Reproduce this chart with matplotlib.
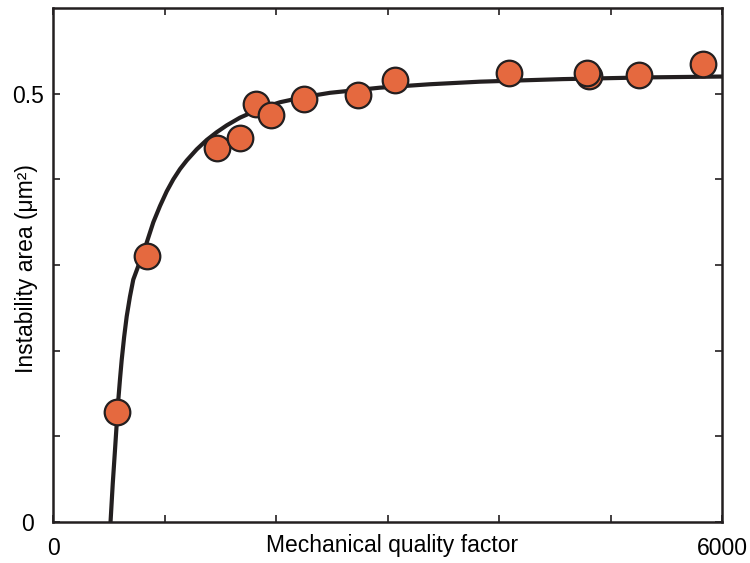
import matplotlib
matplotlib.use('Agg')
import matplotlib.pyplot as plt

plt.rcParams['font.family'] = ['Liberation Sans', 'DejaVu Sans']

# measured points
q_meas = [577, 846, 1468, 1677, 1821, 1952, 2251, 2738, 3067, 4092, 4807, 4792, 5258, 5827]
area_meas = [0.128, 0.311, 0.437, 0.448, 0.488, 0.475, 0.494, 0.498, 0.516, 0.524, 0.521, 0.524, 0.522, 0.535]

# fit curve
q_fit = [516, 536, 556, 571, 586, 601, 616, 638, 661, 690, 720, 774, 825, 900, 960, 1020,
         1079, 1139, 1199, 1289, 1379, 1468, 1558, 1677, 1850, 2036, 2250, 2484, 2933,
         3381, 3830, 4574, 5325, 6000]
area_fit = [0.0, 0.045, 0.084, 0.114, 0.143, 0.167, 0.189, 0.216, 0.240, 0.263, 0.283, 0.302,
            0.320, 0.350, 0.369, 0.386, 0.400, 0.412, 0.422, 0.435, 0.446, 0.455, 0.463, 0.472,
            0.482, 0.490, 0.496, 0.501, 0.507, 0.511, 0.514, 0.517, 0.519, 0.520]

xticks = [0, 1000, 2000, 3000, 4000, 5000, 6000]
xticklabels = ['0', '', '', '', '', '', '6000']
yticks = [0, 0.1, 0.2, 0.3, 0.4, 0.5]
yticklabels = ['0', '', '', '', '', '0.5']

fig = plt.figure(figsize=(7.5, 5.63), dpi=100)
ax = fig.add_axes([53/750, 1 - 522/563, 669/750, 514/563])

ax.plot(q_fit, area_fit, color='#231f20', lw=3.0, zorder=2, solid_joinstyle='round')
ax.scatter(q_meas, area_meas, s=340, color='#e5693f', edgecolor='#231f20', linewidth=1.6, zorder=3)

ax.set_xlim(0, 6000)
ax.set_ylim(0, 0.6)
ax.set_xticks(xticks)
ax.set_xticklabels(xticklabels)
ax.set_yticks(yticks)
ax.set_yticklabels(yticklabels)
ax.tick_params(direction='in', top=True, right=True, length=5, width=1.2,
               labelsize=16.5, color='#231f20')
ax.tick_params(axis='x', pad=11)
ax.tick_params(axis='y', pad=18)
for lab in ax.get_yticklabels():
    lab.set_horizontalalignment('center')
for s in ax.spines.values():
    s.set_linewidth(1.8)
    s.set_color('#231f20')

ax.set_xlabel('Mechanical quality factor', fontsize=16.5)
ax.xaxis.set_label_coords((392 - 53) / 669, (522 - 545.5) / 514)
ax.xaxis.label.set_va('center')
ax.set_ylabel('Instability area (μm²)', fontsize=16.5)
ax.yaxis.set_label_coords((27 - 53) / 669, (522 - 268.5) / 514)
ax.yaxis.label.set_va('center')

fig.savefig('out.png', dpi=100)
